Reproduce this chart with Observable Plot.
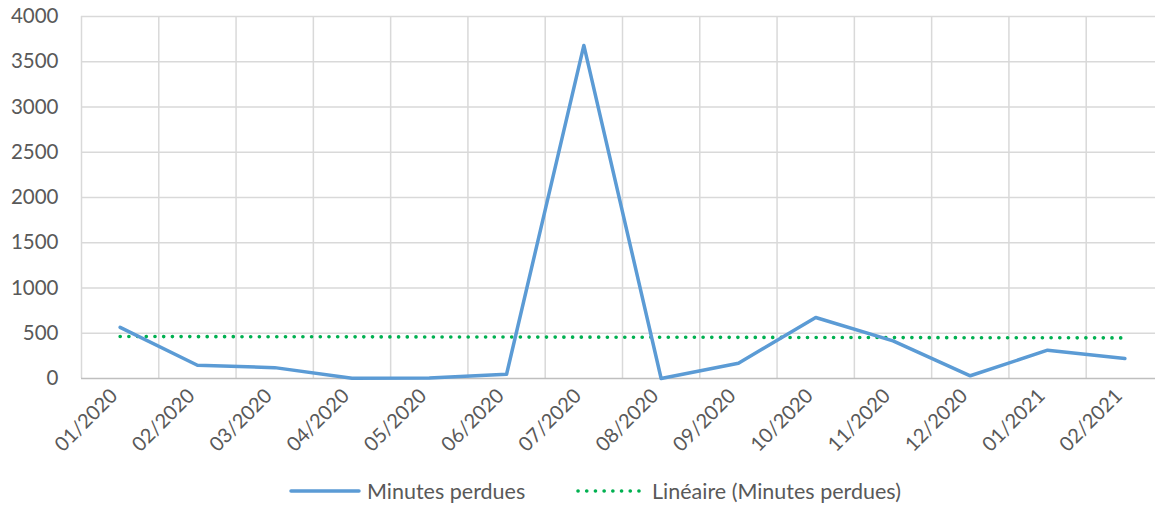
<!DOCTYPE html>
<html>
<head>
<meta charset="utf-8">
<script src="https://cdn.jsdelivr.net/npm/d3@7"></script>
<script src="https://cdn.jsdelivr.net/npm/@observablehq/plot@0.6"></script>
<style>
  html, body { margin: 0; padding: 0; background: #fff; overflow: hidden; width: 1155px; height: 506px; }
  #chart svg { display: block; }
  #legend { position: relative; height: 31px; font-family: Lato, "Open Sans", sans-serif; font-size: 21.5px; color: #595959; }
  #legend .item { position: absolute; top: 0; display: flex; align-items: center; height: 31px; }
  #legend svg { display: block; margin-right: 6px; }
</style>
</head>
<body>
<div id="chart"></div>
<div id="legend"></div>
<script>
const months = ["01/2020","02/2020","03/2020","04/2020","05/2020","06/2020","07/2020","08/2020","09/2020","10/2020","11/2020","12/2020","01/2021","02/2021"];
const minutesPerdues = [565, 147, 120, 2, 5, 47, 3680, 0, 169, 674, 415, 30, 313, 221];
const yTicks = [0, 500, 1000, 1500, 2000, 2500, 3000, 3500, 4000];
const seriesName = "Minutes perdues";
const trendName = "Linéaire (Minutes perdues)";

const blue = "#5B9BD5";
const green = "#00B050";
const grid = "#D9D9D9";
const textColor = "#595959";

const data = months.map((m, i) => ({i, month: m, value: minutesPerdues[i]}));

// Linear trend (least squares over category index)
const n = data.length;
const mx = d3.mean(data, d => d.i), my = d3.mean(data, d => d.value);
const slope = d3.sum(data, d => (d.i - mx) * (d.value - my)) / d3.sum(data, d => (d.i - mx) ** 2);
const intercept = my - slope * mx;
const trend = data.map(d => ({i: d.i, value: intercept + slope * d.i}));

const boundaries = d3.range(-0.5, n, 1);

const chart = Plot.plot({
  width: 1155,
  height: 475,
  marginLeft: 81,
  marginRight: -8,
  marginTop: 16,
  marginBottom: 97,
  style: {fontFamily: "Lato, 'Open Sans', sans-serif", fontSize: "20px", color: textColor, background: "#fff", overflow: "hidden"},
  x: {domain: [-0.5, n - 0.5]},
  y: {domain: [0, 4000]},
  marks: [
    Plot.ruleY(yTicks.filter(v => v > 0), {x1: -0.5, x2: n - 0.5, stroke: grid, strokeWidth: 1.5}),
    Plot.ruleX(boundaries, {y1: 0, y2: 4000, stroke: grid, strokeWidth: 1.5}),
    Plot.ruleY([0], {x1: -0.5, x2: n - 0.5, stroke: "#BFBFBF", strokeWidth: 1.5}),
    Plot.axisY({ticks: yTicks, tickFormat: d => String(d), tickSize: 0, tickPadding: 23, label: null, fill: textColor, fontSize: 20.5}),
    Plot.axisX({ticks: d3.range(n), tickFormat: i => months[i], tickSize: 0, tickPadding: 14, tickRotate: -45, label: null, fill: textColor, fontSize: 20, dx: -6}),
    Plot.line(trend, {x: "i", y: "value", stroke: green, strokeWidth: 3.6, strokeDasharray: "0.1 8.6", strokeLinecap: "round"}),
    Plot.line(data, {x: "i", y: "value", stroke: blue, strokeWidth: 3.5, strokeLinejoin: "round", strokeLinecap: "round"})
  ]
});
document.getElementById("chart").appendChild(chart);

const legend = document.getElementById("legend");
const items = [
  {name: seriesName, left: 289, svg: `<svg width="72" height="10"><line x1="2" y1="5" x2="70" y2="5" stroke="${blue}" stroke-width="3.5" stroke-linecap="round"/></svg>`},
  {name: trendName, left: 574, svg: `<svg width="72" height="10"><line x1="4" y1="5" x2="70" y2="5" stroke="${green}" stroke-width="3.6" stroke-dasharray="0.1 8.6" stroke-linecap="round"/></svg>`}
];
for (const it of items) {
  const div = document.createElement("div");
  div.className = "item";
  div.style.left = it.left + "px";
  div.innerHTML = it.svg + `<span>${it.name}</span>`;
  legend.appendChild(div);
}
</script>
</body>
</html>
